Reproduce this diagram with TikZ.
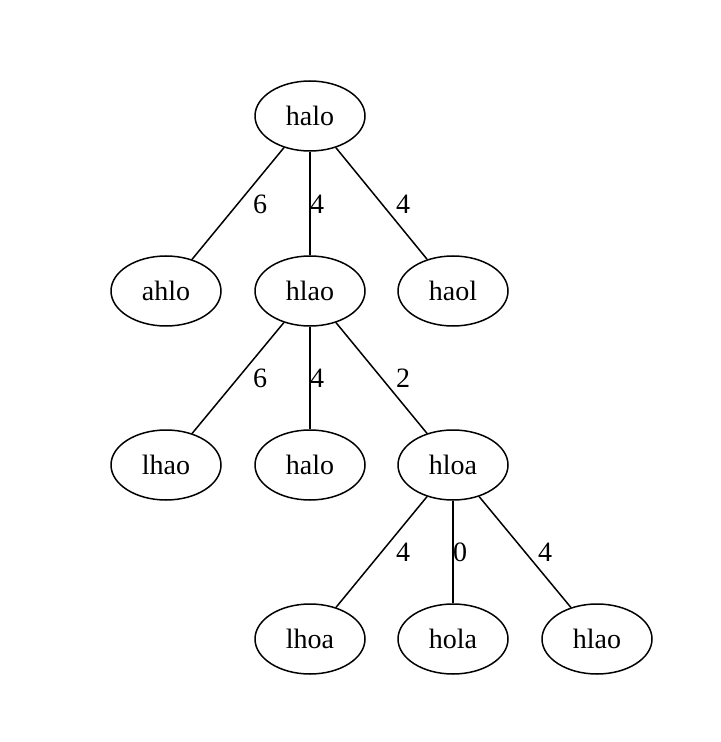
\documentclass[tikz,border=0pt]{standalone}
\usepackage{fontspec}
\setmainfont{Liberation Serif}
\usetikzlibrary{shapes.geometric}
\begin{document}
\begin{tikzpicture}[x={(0.5pt,0)},y={(0,-0.5pt)},
  tnode/.style={ellipse,draw,line width=0.75pt,minimum width=55pt,minimum height=35pt,inner sep=0pt,font=\fontsize{14}{16}\selectfont},
  elabel/.style={inner sep=0pt,font=\fontsize{14}{16}\selectfont},
  edge/.style={line width=0.75pt}]
\useasboundingbox (0,0) rectangle (720,742);
\node[tnode] (n1) at (310,116) {halo};
\node[tnode] (n2) at (166,291) {ahlo};
\node[tnode] (n3) at (310,291) {hlao};
\node[tnode] (n4) at (453,291) {haol};
\node[tnode] (n5) at (166,465) {lhao};
\node[tnode] (n6) at (310,465) {halo};
\node[tnode] (n7) at (453,465) {hloa};
\node[tnode] (n8) at (310,639) {lhoa};
\node[tnode] (n9) at (453,639) {hola};
\node[tnode] (n10) at (597,639) {hlao};
\draw[edge] (n1) -- (n2);
\draw[edge] (n1) -- (n3);
\draw[edge] (n1) -- (n4);
\draw[edge] (n3) -- (n5);
\draw[edge] (n3) -- (n6);
\draw[edge] (n3) -- (n7);
\draw[edge] (n7) -- (n8);
\draw[edge] (n7) -- (n9);
\draw[edge] (n7) -- (n10);
\node[elabel] (l1) at (260,204) {6};
\node[elabel] (l2) at (317,204) {4};
\node[elabel] (l3) at (403,204) {4};
\node[elabel] (l4) at (260,378) {6};
\node[elabel] (l5) at (317,378) {4};
\node[elabel] (l6) at (403,378) {2};
\node[elabel] (l7) at (403,552) {4};
\node[elabel] (l8) at (460,552) {0};
\node[elabel] (l9) at (545,552) {4};
\end{tikzpicture}
\end{document}
